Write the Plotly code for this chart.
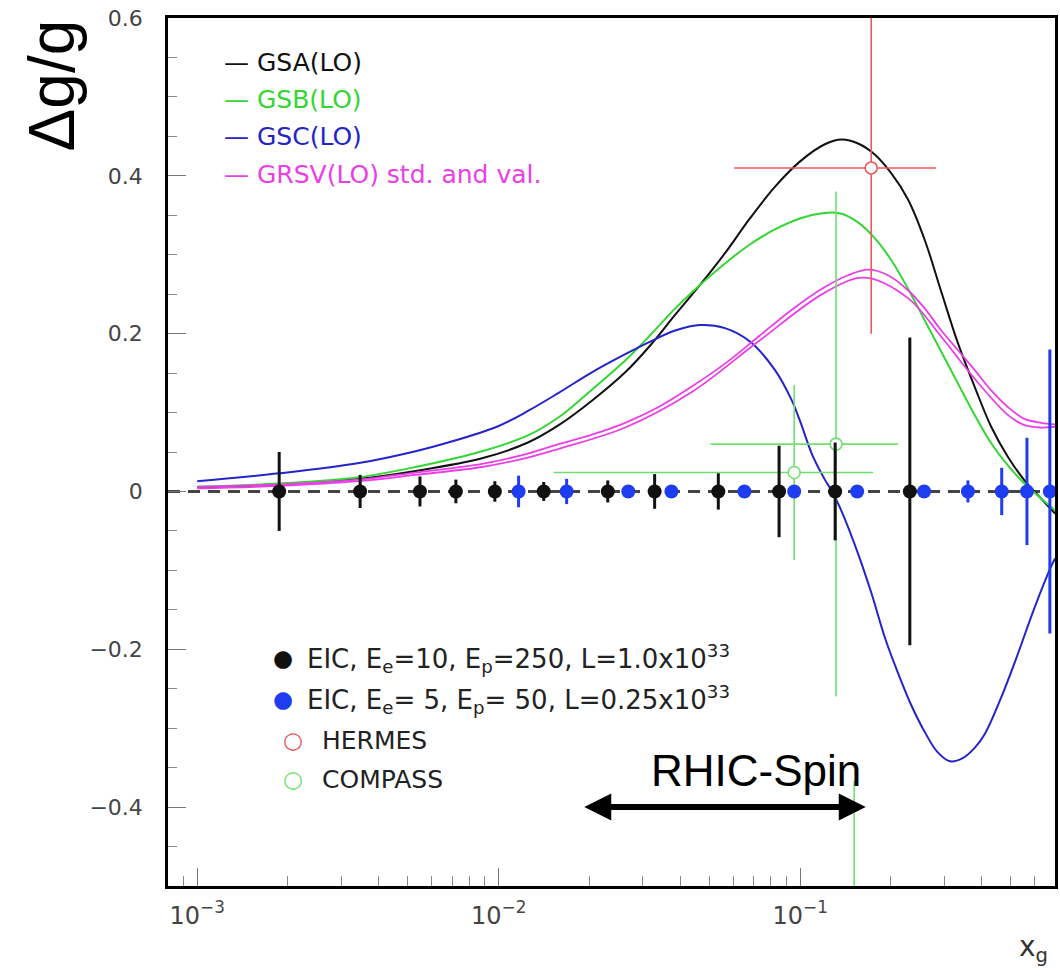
import math
import plotly.graph_objects as go

# ---------------- data ----------------
# Model curves (x_g, Δg/g)
gsa_x = [0.001, 0.00187, 0.00344, 0.0053, 0.0088, 0.0125, 0.01581, 0.02037, 0.02628, 0.0318,
         0.0385, 0.0466, 0.0563, 0.0681, 0.0824, 0.0997, 0.1207, 0.1371, 0.1556, 0.1767,
         0.2006, 0.2278, 0.2587, 0.2937, 0.3335, 0.3787, 0.4300, 0.4882, 0.5544, 0.6295, 0.70]
gsa_y = [0.005, 0.009, 0.016, 0.026, 0.042, 0.062, 0.084, 0.115, 0.151, 0.185,
         0.224, 0.262, 0.302, 0.346, 0.386, 0.418, 0.440, 0.446, 0.441, 0.427,
         0.403, 0.370, 0.319, 0.253, 0.188, 0.133, 0.082, 0.044, 0.014, -0.009, -0.028]

gsb_x = [0.001, 0.00187, 0.00344, 0.0053, 0.0088, 0.0125, 0.01581, 0.02037, 0.02628, 0.0318,
         0.0385, 0.0466, 0.0563, 0.0681, 0.0824, 0.0997, 0.1207, 0.1371, 0.1556, 0.1767,
         0.2006, 0.2278, 0.2587, 0.2937, 0.3335, 0.3787, 0.4300, 0.4882, 0.5544, 0.6295, 0.70]
gsb_y = [0.006, 0.010, 0.018, 0.031, 0.051, 0.071, 0.094, 0.129, 0.166, 0.198,
         0.232, 0.262, 0.289, 0.313, 0.332, 0.346, 0.353, 0.352, 0.341, 0.321,
         0.293, 0.257, 0.217, 0.177, 0.137, 0.097, 0.061, 0.033, 0.010, -0.009, -0.024]

gsc_x = [0.001, 0.00187, 0.00344, 0.0053, 0.0068, 0.0100, 0.0125, 0.01581, 0.02037, 0.02628,
         0.0318, 0.0385, 0.0466, 0.0563, 0.0681, 0.0824, 0.0936, 0.0997, 0.1100, 0.1207,
         0.1276, 0.1371, 0.1556, 0.172, 0.192, 0.211, 0.233, 0.259, 0.285, 0.314,
         0.346, 0.379, 0.41, 0.463, 0.527, 0.595, 0.678, 0.70]
gsc_y = [0.013, 0.023, 0.036, 0.051, 0.062, 0.083, 0.102, 0.125, 0.151, 0.174,
         0.190, 0.204, 0.211, 0.207, 0.190, 0.154, 0.116, 0.090, 0.045, 0.015,
         0.0, -0.025, -0.079, -0.128, -0.188, -0.230, -0.270, -0.305, -0.330, -0.342,
         -0.338, -0.325, -0.307, -0.262, -0.206, -0.150, -0.096, -0.085]

grsv_std_x = [0.001, 0.00187, 0.00344, 0.0053, 0.0088, 0.0125, 0.01581, 0.02037, 0.02628, 0.0339,
              0.0437, 0.0563, 0.0726, 0.0936, 0.1207, 0.1442, 0.168, 0.1955, 0.2278, 0.2587,
              0.2937, 0.3335, 0.3787, 0.4300, 0.4882, 0.5544, 0.6295, 0.70]
grsv_std_y = [0.006, 0.009, 0.015, 0.024, 0.035, 0.048, 0.060, 0.072, 0.087, 0.107,
              0.133, 0.162, 0.196, 0.230, 0.259, 0.274, 0.281, 0.274, 0.255, 0.232,
              0.204, 0.179, 0.154, 0.128, 0.107, 0.092, 0.087, 0.085]
grsv_val_x = [0.001, 0.00187, 0.00344, 0.0053, 0.0088, 0.0125, 0.01581, 0.02628, 0.0437, 0.0726,
              0.1207, 0.1637, 0.2278, 0.2937, 0.3787, 0.4882, 0.5544, 0.6295, 0.70]
grsv_val_y = [0.004, 0.007, 0.013, 0.021, 0.031, 0.043, 0.054, 0.081, 0.126, 0.190,
              0.252, 0.271, 0.245, 0.196, 0.143, 0.097, 0.084, 0.081, 0.082]

# EIC projected points (at Δg/g = 0)
eic10_x = [0.00187, 0.00347, 0.00548, 0.00721, 0.00971, 0.0141, 0.0230, 0.0329, 0.0535,
           0.0851, 0.1306, 0.231]
eic10_y = [0.0] * 12
eic10_err = [0.050, 0.021, 0.019, 0.015, 0.013, 0.012, 0.014, 0.022, 0.023, 0.058, 0.062, 0.195]

eic5_x = [0.01164, 0.0168, 0.0269, 0.0374, 0.0653, 0.0955, 0.1545, 0.2576, 0.360, 0.466,
          0.565, 0.673]
eic5_y = [0.0] * 12
eic5_err = [0.020, 0.016, 0.005, 0.005, 0.005, 0.005, 0.005, 0.005, 0.014, 0.030, 0.068, 0.180]

# HERMES
hermes_x = [0.172]
hermes_y = [0.41]
hermes_xlo = [0.0604]
hermes_xhi = [0.282]
hermes_err = [0.21]

# COMPASS
compass_x = [0.0955, 0.1315]
compass_y = [0.024, 0.060]
compass_xlo = [0.0152, 0.0504]
compass_xhi = [0.1746, 0.211]
compass_err = [0.111, 0.32]
compass_extra_x = [0.151, 0.151]
compass_extra_y = [-0.367, -0.52]

# RHIC-Spin range
rhic_range = [0.019, 0.165]
rhic_y = -0.4

# axis ticks
x_tickvals = [0.001, 0.01, 0.1]
x_ticktext = ["10<sup>\u22123</sup>", "10<sup>\u22122</sup>", "10<sup>\u22121</sup>"]

# ---------------- styling ----------------
C_BLACK = "#111111"
C_GREEN = "#33d633"
C_BLUE = "#2424c8"
C_MAG = "#ea3fe6"
C_EIC_BLUE = "#1e3cf0"
C_RED = "#e85a5a"
C_LGREEN = "#6fe06f"
FONT = "DejaVu Sans"

fig = go.Figure()

def curve(x, y, color, name, width=2):
    fig.add_trace(go.Scatter(x=x, y=y, mode="lines", name=name, showlegend=False,
                             line=dict(color=color, width=width, shape="spline", smoothing=1.0)))

curve(gsa_x, gsa_y, C_BLACK, "GSA(LO)")
curve(gsb_x, gsb_y, C_GREEN, "GSB(LO)")
curve(gsc_x, gsc_y, C_BLUE, "GSC(LO)")
curve(grsv_std_x, grsv_std_y, C_MAG, "GRSV(LO) std.", 1.8)
curve(grsv_val_x, grsv_val_y, C_MAG, "GRSV(LO) val.", 1.8)

# HERMES
fig.add_trace(go.Scatter(
    x=hermes_x, y=hermes_y, mode="markers", name="HERMES", showlegend=False,
    marker=dict(symbol="circle", size=12, color="white", line=dict(color=C_RED, width=1.6)),
    error_x=dict(type="data", symmetric=False,
                 array=[h - x for h, x in zip(hermes_xhi, hermes_x)],
                 arrayminus=[x - l for l, x in zip(hermes_xlo, hermes_x)],
                 color=C_RED, thickness=1.6, width=0),
    error_y=dict(type="data", array=hermes_err, color=C_RED, thickness=1.6, width=0),
))

# COMPASS
fig.add_trace(go.Scatter(
    x=compass_extra_x, y=compass_extra_y, mode="lines", showlegend=False,
    line=dict(color=C_LGREEN, width=1.6)))
fig.add_trace(go.Scatter(
    x=compass_x, y=compass_y, mode="markers", name="COMPASS", showlegend=False,
    marker=dict(symbol="circle", size=12, color="white", line=dict(color=C_LGREEN, width=1.6)),
    error_x=dict(type="data", symmetric=False,
                 array=[h - x for h, x in zip(compass_xhi, compass_x)],
                 arrayminus=[x - l for l, x in zip(compass_xlo, compass_x)],
                 color=C_LGREEN, thickness=1.6, width=0),
    error_y=dict(type="data", array=compass_err, color=C_LGREEN, thickness=1.6, width=0),
))

# EIC points
fig.add_trace(go.Scatter(
    x=eic5_x, y=eic5_y, mode="markers", name="EIC 5x50", showlegend=False,
    marker=dict(size=14, color=C_EIC_BLUE),
    error_y=dict(type="data", array=eic5_err, color=C_EIC_BLUE, thickness=3, width=0)))
fig.add_trace(go.Scatter(
    x=eic10_x, y=eic10_y, mode="markers", name="EIC 10x250", showlegend=False,
    marker=dict(size=14, color=C_BLACK),
    error_y=dict(type="data", array=eic10_err, color=C_BLACK, thickness=3, width=0)))

# zero dashed line
fig.add_hline(y=0, line=dict(color="#444444", width=3, dash="12px,8px"), layer="below")

# ---------------- annotations ----------------
L, R, T, B = 168, 1058, 18, 886
def px(xp):
    return (xp - L) / (R - L)
def py(yp):
    return (B - yp) / (B - T)

ann = []
# top legend
top_items = [("GSA(LO)", C_BLACK, 62), ("GSB(LO)", C_GREEN, 99),
             ("GSC(LO)", C_BLUE, 136), ("GRSV(LO) std. and val.", C_MAG, 174)]
for text, col, yy in top_items:
    ann.append(dict(xref="paper", yref="paper", x=px(222), y=py(yy), xanchor="left", yanchor="middle",
                    text=f"\u2014 {text}", showarrow=False,
                    font=dict(family=FONT, size=25, color=col)))

# bottom legend: (symbol, colour, text, row y, symbol x, text x, text size)
bot_items = [("\u25cf", C_BLACK, "EIC, E<sub>e</sub>=10, E<sub>p</sub>=250, L=1.0x10<sup>33</sup>", 658, 283, 305, 26),
             ("\u25cf", C_EIC_BLUE, "EIC, E<sub>e</sub>= 5, E<sub>p</sub>= 50, L=0.25x10<sup>33</sup>", 699, 283, 305, 26),
             ("\u25cb", C_RED, "HERMES", 740, 293, 321, 25),
             ("\u25cb", C_LGREEN, "COMPASS", 779, 293, 321, 25)]
for sym, col, text, yy, sx, tx, fs in bot_items:
    ann.append(dict(xref="paper", yref="paper", x=px(sx), y=py(yy), xanchor="center", yanchor="middle",
                    text=sym, showarrow=False, font=dict(family=FONT, size=23, color=col)))
    ann.append(dict(xref="paper", yref="paper", x=px(tx), y=py(yy), xanchor="left", yanchor="middle",
                    text=text, showarrow=False, font=dict(family=FONT, size=fs, color="#222222")))

# RHIC-Spin
ann.append(dict(xref="paper", yref="paper", x=px(758), y=py(770), xanchor="center", yanchor="middle",
                text="RHIC-Spin", showarrow=False,
                font=dict(family="Liberation Sans", size=44, color="black")))
ann.append(dict(xref="x", yref="y", axref="x", ayref="y",
                x=math.log10(rhic_range[1]), y=rhic_y,
                ax=math.log10(rhic_range[0]), ay=rhic_y,
                text="", showarrow=True, arrowhead=2, arrowside="end+start",
                arrowwidth=6, arrowsize=0.9, arrowcolor="black", standoff=0, startstandoff=0))

# axis titles
ann.append(dict(xref="paper", yref="paper", x=px(52), y=py(85), xanchor="center", yanchor="middle",
                text="\u0394g/g", textangle=-90, showarrow=False,
                font=dict(family="Liberation Sans", size=64, color="black")))
ann.append(dict(xref="paper", yref="paper", x=px(1036), y=py(948), xanchor="center", yanchor="middle",
                text="x<sub>g</sub>", showarrow=False,
                font=dict(family=FONT, size=28, color="#333333")))

minor_x = [m * 10 ** e for e in (-4, -3, -2, -1) for m in range(2, 10)]

fig.update_layout(
    width=1060, height=976,
    margin=dict(l=L, r=1060 - R, t=T, b=976 - B),
    paper_bgcolor="white", plot_bgcolor="white",
    showlegend=False,
    annotations=ann,
    xaxis=dict(type="log", range=[math.log10(0.0008), math.log10(0.70)],
               showline=True, linecolor="black", linewidth=2.5, mirror=True,
               showgrid=False, zeroline=False,
               tickmode="array", tickvals=x_tickvals, ticktext=x_ticktext,
               ticks="inside", ticklen=18, tickwidth=1, tickcolor="#777777",
               tickfont=dict(family=FONT, size=24, color="#444444"),
               ticklabelstandoff=6,
               minor=dict(tickmode="array", tickvals=minor_x, ticks="inside",
                          ticklen=10, tickwidth=1, tickcolor="#888888", showgrid=False)),
    yaxis=dict(range=[-0.5, 0.6], showline=True, linecolor="black", linewidth=2.5, mirror=True,
               showgrid=False, zeroline=False,
               tick0=0, dtick=0.2,
               ticks="inside", ticklen=18, tickwidth=1, tickcolor="#777777",
               tickfont=dict(family=FONT, size=22, color="#444444"),
               ticklabelstandoff=18,
               minor=dict(dtick=0.05, ticks="inside", ticklen=9, tickwidth=1,
                          tickcolor="#888888", showgrid=False)),
)

fig.write_html("out.html", config={"displayModeBar": False},
               post_script="document.body.style.margin='0px';")
